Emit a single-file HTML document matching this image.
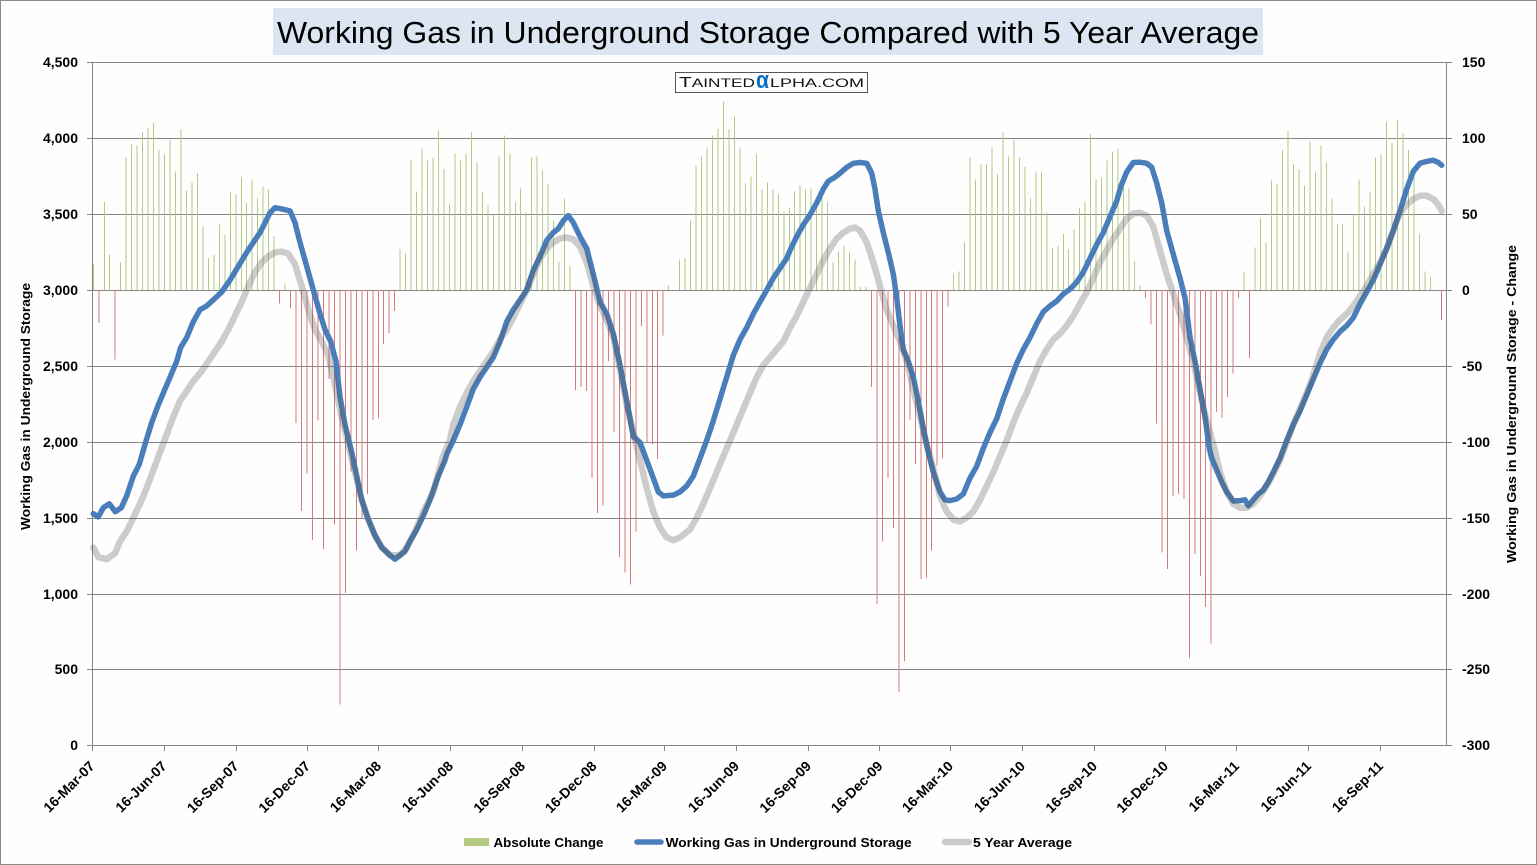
<!DOCTYPE html>
<html><head><meta charset="utf-8"><style>
html,body{margin:0;padding:0;background:#fff}
svg{display:block}
text{font-family:"Liberation Sans",Arial,sans-serif}
</style></head><body>
<svg width="1537" height="865" viewBox="0 0 1537 865" xmlns="http://www.w3.org/2000/svg">
<rect x="0.5" y="0.5" width="1536" height="864" fill="#fefefe" stroke="#8a8a8a" stroke-width="1"/>
<!-- title -->
<rect x="273" y="8" width="990" height="47" fill="#dce6f2"/>
<text x="277" y="43" font-size="31" textLength="982" lengthAdjust="spacingAndGlyphs" fill="#000">Working Gas in Underground Storage Compared with 5 Year Average</text>
<!-- gridlines -->
<g stroke="#868686" stroke-width="1" fill="none">
<path d="M92 62.5H1447M92 138.5H1447M92 214.5H1447M92 290.5H1447M92 366.5H1447M92 442.5H1447M92 518.5H1447M92 594.5H1447M92 669.5H1447M92 745.5H1447"/>
<path d="M92.5 62V751M1446.5 62V746"/>
<path d="M87 62.5H92M87 138.5H92M87 214.5H92M87 290.5H92M87 366.5H92M87 442.5H92M87 518.5H92M87 594.5H92M87 669.5H92M87 745.5H92"/>
<path d="M1447 62.5H1452M1447 138.5H1452M1447 214.5H1452M1447 290.5H1452M1447 366.5H1452M1447 442.5H1452M1447 518.5H1452M1447 594.5H1452M1447 669.5H1452M1447 745.5H1452"/>
<path d="M164.5 745V751M236.5 745V751M307.5 745V751M378.5 745V751M450.5 745V751M522.5 745V751M594.5 745V751M664.5 745V751M736.5 745V751M808.5 745V751M879.5 745V751M950.5 745V751M1022.5 745V751M1094.5 745V751M1165.5 745V751M1236.5 745V751M1308.5 745V751M1380.5 745V751"/>
</g>
<!-- watermark -->
<rect x="675.5" y="72.5" width="192" height="20" fill="#fff" stroke="#555" stroke-width="1"/>
<text x="679" y="87" font-size="12" fill="#111" textLength="76" lengthAdjust="spacingAndGlyphs"><tspan font-size="14.5">T</tspan>AINTED</text>
<text x="756" y="88" font-size="24" font-weight="bold" fill="#0a6fc2" textLength="13" lengthAdjust="spacingAndGlyphs">α</text>
<text x="770" y="87" font-size="12" fill="#111" textLength="94" lengthAdjust="spacingAndGlyphs">LPHA.COM</text>
<!-- bars -->
<g transform="translate(93.3,289.8) scale(5.48,-1.5186)">
<path fill="none" stroke="#b3ca80" stroke-width="1" vector-effect="non-scaling-stroke" shape-rendering="crispEdges" d="M0 0V16.7M2 0V58M3 0V23M5 0V18M6 0V87M7 0V95.6M8 0V95M9 0V104M10 0V107M11 0V110M12 0V92M13 0V89M14 0V99M15 0V78M16 0V106M17 0V65M18 0V70.6M19 0V77M20 0V41.7M21 0V21M22 0V23M23 0V43M24 0V36M25 0V64M26 0V63M27 0V74M28 0V57M29 0V72.7M30 0V60M31 0V68M32 0V66M33 0V35.4M35 0V4M56 0V27M57 0V24M58 0V85.7M59 0V64.6M60 0V93M61 0V85M62 0V87M63 0V105M64 0V79.7M65 0V56.8M66 0V89.6M67 0V85M68 0V89.6M69 0V104M70 0V83.9M71 0V64.6M72 0V56M73 0V49.5M74 0V87.8M75 0V101.6M76 0V89.6M77 0V58M78 0V66.7M79 0V50.8M80 0V87M81 0V87.8M82 0V79M83 0V70M84 0V45.6M85 0V18.8M86 0V60M87 0V15.9M105 0V2.9M107 0V19.8M108 0V21M109 0V45.6M110 0V81.8M111 0V87.8M112 0V93.8M113 0V101.6M114 0V106M115 0V124M116 0V106M117 0V114M118 0V93.8M119 0V70M120 0V74.5M121 0V89.6M122 0V65.9M123 0V70.6M124 0V65.9M125 0V62.8M126 0V52M127 0V54M128 0V64.6M129 0V68.8M130 0V65.9M131 0V66.7M132 0V60M133 0V62.8M134 0V58M135 0V18M136 0V25.3M137 0V29M138 0V25.3M139 0V19.8M140 0V2M141 0V2M157 0V10.7M158 0V12M159 0V31M160 0V87M161 0V72.7M162 0V83M163 0V83M164 0V93.8M165 0V75.8M166 0V104M167 0V87.8M168 0V99M169 0V87M170 0V81M171 0V60M172 0V77.9M173 0V77.9M174 0V50.8M175 0V27.9M176 0V29M177 0V37M178 0V27M179 0V39.6M180 0V54M181 0V58M182 0V102.6M183 0V72.7M184 0V74M185 0V85M186 0V91M187 0V93M188 0V70M189 0V66.7M190 0V18.5M191 0V2.9M210 0V12M212 0V27.9M213 0V47M214 0V31M215 0V71.9M216 0V70M217 0V92M218 0V105M219 0V83M220 0V79.7M221 0V68.8M222 0V97.7M223 0V77.9M224 0V95M225 0V83.9M226 0V60M227 0V43M228 0V43.5M229 0V25.3M230 0V49.7M231 0V72.7M232 0V54.7M233 0V64M234 0V87M235 0V89M236 0V110.7M237 0V96.9M238 0V112M239 0V102.9M240 0V92M241 0V75.8M242 0V37M243 0V12M244 0V8.6"/>
<path fill="none" stroke="#d9787a" stroke-width="1" vector-effect="non-scaling-stroke" shape-rendering="crispEdges" d="M1 0V-22M4 0V-46M34 0V-8.9M36 0V-12M37 0V-87.8M38 0V-145.6M39 0V-121M40 0V-164.6M41 0V-86M42 0V-170.8M43 0V-58.9M44 0V-154.7M45 0V-273M46 0V-199.5M47 0V-119.5M48 0V-171.6M49 0V-150.8M50 0V-134.4M51 0V-85.7M52 0V-84.4M53 0V-35.7M54 0V-28.4M55 0V-14M88 0V-66M89 0V-64M90 0V-66.7M91 0V-124M92 0V-146.9M93 0V-142M94 0V-47M95 0V-93.5M96 0V-176M97 0V-186M98 0V-194M99 0V-159M100 0V-24M101 0V-100.8M102 0V-101.8M103 0V-111.5M104 0V-30M142 0V-64M143 0V-206.8M144 0V-165.6M145 0V-124M146 0V-157M147 0V-265M148 0V-244.5M149 0V-85.7M150 0V-114.8M151 0V-190.6M152 0V-189.8M153 0V-171.6M154 0V-115.6M155 0V-111M156 0V-11M192 0V-5.5M193 0V-22.7M194 0V-88M195 0V-172.9M196 0V-184M197 0V-135.7M198 0V-134.6M199 0V-137.8M200 0V-242.5M201 0V-174M202 0V-188.5M203 0V-208.8M204 0V-232.8M205 0V-80.5M206 0V-84.4M207 0V-70.6M208 0V-55.2M209 0V-5.5M211 0V-44.8M245 0V-1M246 0V-20"/>
</g>
<!-- blue line -->
<polyline fill="none" stroke="#4a7ebb" stroke-width="5.5" stroke-linejoin="round" stroke-linecap="round" points="93.3,513.7 98.3,516.9 103.3,507.7 109.3,503.8 115.3,511.7 121.3,507.7 126.7,495.9 133.3,476.1 139.3,464.2 145,444.4 151.7,422.6 158.3,404.8 165,389 171.7,373.2 176.7,361.3 180.7,347.4 186.7,337.5 193.3,321.7 200,309.8 206.7,305.9 213.3,299.9 221.7,292 230,280.1 238.3,266.3 246.7,252.4 253.3,242.5 260,232.6 265,222.7 270,212.8 275,207.7 281.7,208.9 290,210.9 295,222.7 300,242.5 306.7,266.3 313.3,290 320,313.8 325,329.6 330.7,341.5 336,361.3 340,396.9 345,424.6 351.7,452.3 356.7,476.1 361.7,499.8 368.3,519.6 375,535.5 381.7,547.4 390,555.3 395,559.2 405,551.3 410,541.4 416.7,529.5 423.3,515.7 430,499.8 438.3,476.1 445,460.3 446.7,454.3 453.3,440.5 460,424.6 466.7,406.8 473.3,389 480,377.1 486.7,367.2 493.3,357.3 500,341.5 506.7,321.7 513.3,309.8 520,299.9 526.7,290 533.3,270.2 540,256.4 546.7,240.5 553.3,232.6 558.3,228.7 563.3,220.7 568.3,215.6 573.3,222.7 580,236.6 586.7,248.5 593.3,274.2 600,301.9 606.7,313.8 613.3,333.6 620,365.2 626.7,400.9 633.3,436.5 640,442.4 646.7,460.3 653.3,478.1 658.3,491.9 663.3,495.9 673.3,495.1 680,491.9 686.7,486 693.3,476.1 700,458.3 706.7,440.5 713.3,420.7 720,398.9 726.7,377.1 733.3,355.3 740,339.5 746.7,327.6 753.3,313.8 760,301.9 766.7,290 773.3,278.1 780,268.2 786.7,258.3 790,250.4 796.7,236.6 803.3,224.7 810,214.8 816.7,202.9 823.3,189.1 828.3,181.2 835,177.2 840,173.2 846.7,167.3 853.3,163.3 860,162.5 866.7,163.3 871.7,173.2 875,189.1 878.3,210.8 883.3,232.6 888.3,252.4 893.3,274.2 896.7,297.9 900,325.7 903.3,349.4 908.3,361.3 913.3,377.1 918.3,400.9 923.3,428.6 928.3,452.3 933.3,472.1 940,491.9 945,499.8 950,500.6 956.7,499 963.3,493.9 970,478.1 976.7,466.2 983.3,448.4 990,432.5 996.7,418.7 1003.3,398.9 1010,381.1 1016.7,363.3 1023.3,349.4 1030,337.5 1036.7,323.7 1043.3,311.8 1050,305.9 1056.7,301.1 1063.3,294 1070,289.2 1076.7,282.1 1083.3,272.2 1090,258.4 1096.7,244.5 1103.3,232.6 1110,216.8 1116.7,201 1121,186 1126.7,172 1133.3,162.5 1140,162.2 1146.7,163.3 1151.7,167.3 1156.7,183.1 1161.7,202.9 1166.7,230.6 1173.3,254.4 1180,278.1 1185,297.9 1190,337.5 1195,361.3 1200,389 1205,416.7 1209.3,448.4 1211.7,458.3 1216.7,470.2 1221.7,482 1226.7,491.9 1233.3,501 1240,500.6 1245,499.8 1248.3,505.8 1253.3,499.8 1258.3,493.9 1263.3,490 1268.3,482 1273.3,472.1 1280,458.3 1286.7,440.5 1293.3,424.6 1300,410.8 1306.7,394.9 1313.3,379.1 1320,363.3 1326.7,349.4 1333.3,339.5 1340,331.6 1346.7,325.7 1353.3,317.7 1360,303.9 1366.7,292 1373.3,280.1 1380,264.3 1386.7,248.5 1393.3,230.6 1400,210.8 1406.7,189.1 1413.3,171.3 1420,163.3 1426.7,161.4 1433.3,160.2 1438.3,162.5 1441.7,165.3"/>
<!-- gray line -->
<polyline fill="none" stroke="#5a5a5a" stroke-opacity="0.3" stroke-width="6.5" stroke-linejoin="round" stroke-linecap="round" points="93.3,547.5 98.3,557.2 106.7,559.2 115,553.3 120,541.4 126.7,531.5 133.3,517.7 140,503.8 146.7,488 153.3,470.2 160,452.3 166.7,434.5 173.3,416.7 180,400.9 186.7,391 193.3,381.1 201.7,371.2 208.3,361.3 215,351.4 221.7,341.5 228.3,329.6 235,315.8 241.7,301.9 248.3,286.1 255,272.2 261.7,262.3 268.3,256.4 275,252.4 281.7,251.6 288.3,253.6 295,264.3 301.7,286.1 308.3,309.8 315,329.6 321.7,341.5 328.3,355.3 335,385 341.7,416.7 348.3,444.4 355,472.1 361.7,499.8 368.3,519.6 375,535.5 381.7,547.4 390,555.3 400,555.3 406.7,547.4 415,531.5 423.3,511.7 433.3,491.9 443,456 450,440 453.3,424.6 460,406.8 466.7,393 473.3,381.1 480,371.2 486.7,361.3 493.3,351.4 500,339.5 506.7,329.6 513.3,317.7 520,303.9 526.7,290 533.3,274.2 540,258.4 546.7,248.5 553.3,242.5 560,238.6 566.7,237.4 573.3,239.4 580,246.5 586.7,262.3 593.3,286.1 600,305.9 606.7,319.7 613.3,337.5 620,369.2 626.7,404.8 633.3,432.5 640,460.3 646.7,488 653.3,511.7 660,527.6 666.7,537.4 673.3,540.2 680,537.4 690,529.5 696.7,517.7 703.3,503.8 710,488 716.7,472.1 723.3,456.3 730,440.5 736.7,424.6 743.3,408.8 750,393 756.7,377.1 763.3,365.2 770,357.3 776.7,349.4 783.3,341.5 790,327.6 796.7,315.8 803.3,301.9 810,288 816.7,274.2 823.3,260.3 830,248.5 836.7,238.6 843.3,232.6 850,228.7 855,227.5 860,230.6 866.7,242.5 873.3,262.3 880,286.1 886.7,309.8 893.3,325.7 900,341.5 906.7,361.3 913.3,389 920,416.7 926.7,444.4 933.3,468.2 940,495.9 946.7,511.7 953.3,519.6 960,521.5 966.7,517.6 973.3,511.7 980,499.8 986.7,486 993.3,472.1 1000,456.3 1006.7,440.5 1013.3,422.6 1020,406.8 1026.7,393 1033.3,377.1 1040,361.3 1046.7,349.4 1053.3,339.5 1060,333.6 1066.7,325.7 1073.3,315.8 1080,303.9 1086.7,292 1093.3,278.1 1100,262.3 1106.7,250.4 1113.3,238.6 1120,228.7 1126.7,218.8 1133.3,213.6 1140,212.8 1146.7,215.6 1153.3,226.7 1160,250.4 1166.7,274.2 1173.3,294 1180,313.8 1186.7,337.5 1193.3,361.3 1200,393 1206.7,420.7 1213.3,444.4 1220,472.1 1226.7,491.9 1233.3,503.8 1240,507.8 1246.7,507.8 1253.3,503.8 1260,495.9 1266.7,486 1273.3,474.1 1280,460.3 1286.7,442.4 1293.3,424.6 1300,408.8 1306.7,393 1313.3,375.1 1320,353.4 1326.7,337.5 1333.3,327.6 1340,319.7 1346.7,313.8 1353.3,305.9 1360,296 1366.7,286.1 1373.3,274.2 1380,262.3 1386.7,248.5 1393.3,230.6 1400,212.8 1406.7,204.9 1413.3,199 1420,195.8 1426.7,195.8 1433.3,199 1438.3,204.9 1441.7,210.8"/>
<!-- left axis labels -->
<g font-size="14" font-weight="bold" fill="#000" text-anchor="end">
<text x="78" y="67">4,500</text>
<text x="78" y="143">4,000</text>
<text x="78" y="219">3,500</text>
<text x="78" y="295">3,000</text>
<text x="78" y="371">2,500</text>
<text x="78" y="447">2,000</text>
<text x="78" y="523">1,500</text>
<text x="78" y="599">1,000</text>
<text x="78" y="674">500</text>
<text x="78" y="750">0</text>
</g>
<g font-size="14" font-weight="bold" fill="#000" text-anchor="start">
<text x="1462" y="67">150</text>
<text x="1462" y="143">100</text>
<text x="1462" y="219">50</text>
<text x="1462" y="295">0</text>
<text x="1462" y="371">-50</text>
<text x="1462" y="447">-100</text>
<text x="1462" y="523">-150</text>
<text x="1462" y="599">-200</text>
<text x="1462" y="674">-250</text>
<text x="1462" y="750">-300</text>
</g>
<!-- axis titles -->
<text transform="translate(30,406.5) rotate(-90)" text-anchor="middle" font-size="13" font-weight="bold" fill="#000" textLength="247" lengthAdjust="spacingAndGlyphs">Working Gas in Underground Storage</text>
<text transform="translate(1516,404) rotate(-90)" text-anchor="middle" font-size="13" font-weight="bold" fill="#000" textLength="318" lengthAdjust="spacingAndGlyphs">Working Gas in Underground Storage - Change</text>
<!-- x labels -->
<g font-size="14" font-weight="bold" fill="#000" text-anchor="end">
<text transform="translate(95.5,767) rotate(-45)">16-Mar-07</text>
<text transform="translate(167.5,767) rotate(-45)">16-Jun-07</text>
<text transform="translate(239.5,767) rotate(-45)">16-Sep-07</text>
<text transform="translate(311,767) rotate(-45)">16-Dec-07</text>
<text transform="translate(382,767) rotate(-45)">16-Mar-08</text>
<text transform="translate(454,767) rotate(-45)">16-Jun-08</text>
<text transform="translate(526,767) rotate(-45)">16-Sep-08</text>
<text transform="translate(597.5,767) rotate(-45)">16-Dec-08</text>
<text transform="translate(668,767) rotate(-45)">16-Mar-09</text>
<text transform="translate(740,767) rotate(-45)">16-Jun-09</text>
<text transform="translate(812,767) rotate(-45)">16-Sep-09</text>
<text transform="translate(883.5,767) rotate(-45)">16-Dec-09</text>
<text transform="translate(954,767) rotate(-45)">16-Mar-10</text>
<text transform="translate(1026,767) rotate(-45)">16-Jun-10</text>
<text transform="translate(1098,767) rotate(-45)">16-Sep-10</text>
<text transform="translate(1169,767) rotate(-45)">16-Dec-10</text>
<text transform="translate(1240,767) rotate(-45)">16-Mar-11</text>
<text transform="translate(1312,767) rotate(-45)">16-Jun-11</text>
<text transform="translate(1384,767) rotate(-45)">16-Sep-11</text>
</g>
<!-- legend -->
<rect x="464" y="838" width="25" height="8" fill="#b3ca80"/>
<text x="493.5" y="847" font-size="13" font-weight="bold" fill="#000" textLength="110" lengthAdjust="spacingAndGlyphs">Absolute Change</text>
<line x1="637" y1="842" x2="661" y2="842" stroke="#4a7ebb" stroke-width="5.5" stroke-linecap="round"/>
<text x="665.6" y="847" font-size="13" font-weight="bold" fill="#000" textLength="246" lengthAdjust="spacingAndGlyphs">Working Gas in Underground Storage</text>
<line x1="945" y1="842" x2="969" y2="842" stroke="#5a5a5a" stroke-opacity="0.3" stroke-width="6.5" stroke-linecap="round"/>
<text x="973" y="847" font-size="13" font-weight="bold" fill="#000" textLength="99" lengthAdjust="spacingAndGlyphs">5 Year Average</text>
</svg>
</body></html>
